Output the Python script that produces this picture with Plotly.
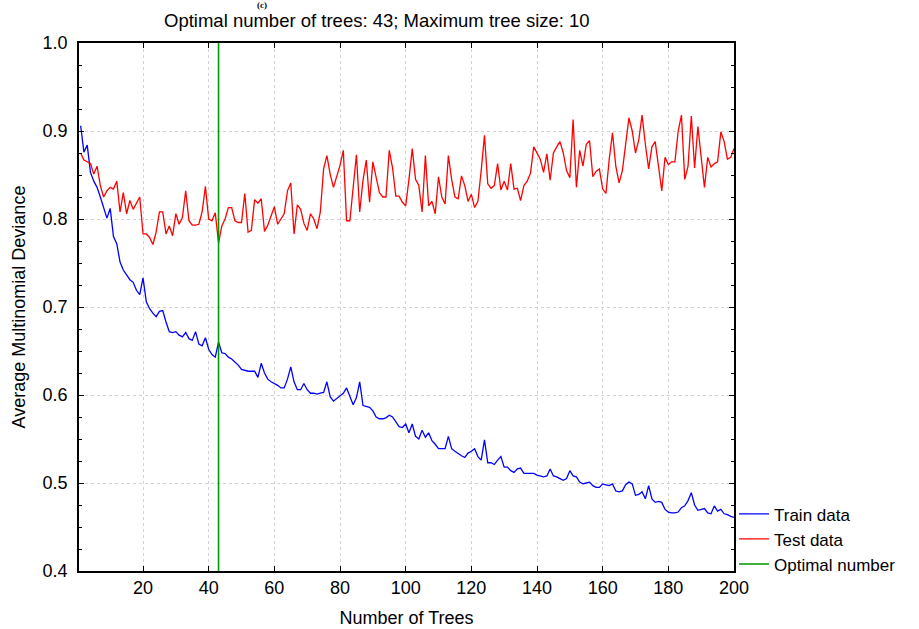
import plotly.graph_objects as go

trees = list(range(1, 201))

train_data = [
    0.906, 0.876, 0.884, 0.853, 0.843, 0.836, 0.825, 0.813, 0.801, 0.812,
    0.780, 0.772, 0.751, 0.742, 0.736, 0.731, 0.728, 0.719, 0.714, 0.733,
    0.706, 0.698, 0.693, 0.689, 0.695, 0.696, 0.683, 0.672, 0.671, 0.672,
    0.668, 0.666, 0.671, 0.664, 0.662, 0.672, 0.658, 0.656, 0.665, 0.652,
    0.646, 0.643, 0.660, 0.648, 0.647, 0.643, 0.641, 0.638, 0.634, 0.629,
    0.628, 0.627, 0.627, 0.627, 0.620, 0.636, 0.625, 0.618, 0.615, 0.613,
    0.611, 0.608, 0.608, 0.618, 0.632, 0.615, 0.606, 0.606, 0.613, 0.606,
    0.602, 0.602, 0.601, 0.602, 0.603, 0.615, 0.598, 0.593, 0.596, 0.599,
    0.602, 0.608, 0.598, 0.589, 0.597, 0.615, 0.588, 0.587, 0.586, 0.582,
    0.575, 0.573, 0.573, 0.574, 0.577, 0.575, 0.570, 0.564, 0.563, 0.567,
    0.557, 0.567, 0.553, 0.550, 0.560, 0.552, 0.557, 0.548, 0.544, 0.539,
    0.539, 0.539, 0.553, 0.539, 0.536, 0.533, 0.531, 0.529, 0.534, 0.536,
    0.539, 0.530, 0.526, 0.549, 0.523, 0.523, 0.521, 0.526, 0.530, 0.518,
    0.518, 0.514, 0.512, 0.516, 0.517, 0.511, 0.511, 0.511, 0.511, 0.509,
    0.508, 0.507, 0.508, 0.516, 0.508, 0.507, 0.505, 0.503, 0.505, 0.514,
    0.508, 0.507, 0.501, 0.499, 0.500, 0.501, 0.497, 0.495, 0.495, 0.499,
    0.498, 0.497, 0.499, 0.491, 0.490, 0.491, 0.498, 0.501, 0.499, 0.486,
    0.487, 0.490, 0.482, 0.497, 0.482, 0.478, 0.479, 0.478, 0.470, 0.467,
    0.466, 0.466, 0.467, 0.472, 0.474, 0.480, 0.489, 0.475, 0.469, 0.470,
    0.471, 0.466, 0.465, 0.474, 0.468, 0.470, 0.465, 0.464, 0.462, 0.461,
]

test_data = [
    0.875, 0.867, 0.865, 0.863, 0.851, 0.860, 0.838, 0.825, 0.832, 0.836,
    0.834, 0.843, 0.808, 0.830, 0.806, 0.821, 0.811, 0.819, 0.825, 0.783,
    0.783, 0.779, 0.771, 0.785, 0.808, 0.808, 0.783, 0.792, 0.781, 0.806,
    0.794, 0.802, 0.832, 0.798, 0.793, 0.793, 0.794, 0.808, 0.837, 0.800,
    0.798, 0.807, 0.773, 0.792, 0.800, 0.813, 0.813, 0.798, 0.796, 0.796,
    0.829, 0.785, 0.787, 0.822, 0.818, 0.823, 0.786, 0.793, 0.804, 0.814,
    0.794, 0.800, 0.806, 0.832, 0.841, 0.783, 0.816, 0.811, 0.795, 0.787,
    0.806, 0.800, 0.789, 0.808, 0.857, 0.872, 0.851, 0.836, 0.848, 0.861,
    0.878, 0.798, 0.798, 0.838, 0.873, 0.808, 0.844, 0.867, 0.819, 0.865,
    0.848, 0.830, 0.825, 0.825, 0.878, 0.858, 0.826, 0.826, 0.819, 0.815,
    0.845, 0.880, 0.845, 0.838, 0.808, 0.872, 0.815, 0.820, 0.806, 0.848,
    0.825, 0.817, 0.872, 0.845, 0.825, 0.823, 0.849, 0.838, 0.820, 0.828,
    0.813, 0.820, 0.855, 0.895, 0.840, 0.835, 0.838, 0.863, 0.833, 0.843,
    0.833, 0.863, 0.834, 0.835, 0.821, 0.838, 0.843, 0.852, 0.882, 0.875,
    0.868, 0.853, 0.874, 0.844, 0.875, 0.882, 0.888, 0.875, 0.855, 0.847,
    0.913, 0.836, 0.878, 0.860, 0.885, 0.889, 0.848, 0.854, 0.857, 0.834,
    0.829, 0.868, 0.898, 0.860, 0.841, 0.855, 0.885, 0.915, 0.900, 0.875,
    0.890, 0.918, 0.885, 0.857, 0.882, 0.888, 0.860, 0.832, 0.870, 0.862,
    0.865, 0.865, 0.900, 0.918, 0.845, 0.860, 0.917, 0.858, 0.905, 0.870,
    0.836, 0.870, 0.859, 0.863, 0.865, 0.899, 0.888, 0.868, 0.870, 0.880,
]

optimal_trees = 43
y_min, y_max = 0.4, 1.0
x_ticks = [20, 40, 60, 80, 100, 120, 140, 160, 180, 200]

FONT = "Arial, Liberation Sans, sans-serif"

fig = go.Figure()
fig.add_trace(go.Scatter(x=trees, y=train_data, mode="lines", name="Train data",
                         line=dict(color="#0000ff", width=1.3)))
fig.add_trace(go.Scatter(x=trees, y=test_data, mode="lines", name="Test data",
                         line=dict(color="#ff0000", width=1.3)))
fig.add_trace(go.Scatter(x=[optimal_trees, optimal_trees], y=[y_min, y_max], mode="lines",
                         name="Optimal number", line=dict(color="#009900", width=1.6)))

axis_common = dict(
    showline=True, linecolor="black", linewidth=1.5, mirror="ticks",
    ticks="inside", ticklen=5, tickcolor="black", tickwidth=1.2,
    showgrid=True, gridcolor="#d2d2d2", griddash="dot", gridwidth=1,
    zeroline=False, automargin=False,
    tickfont=dict(size=18, color="black", family=FONT),
)

fig.update_layout(
    width=919, height=629,
    margin=dict(l=79, r=185, t=43, b=58),
    paper_bgcolor="white", plot_bgcolor="white",
    font=dict(family=FONT, size=18, color="black"),
    showlegend=True,
    legend=dict(x=1.0, xanchor="left", y=0.06, yanchor="middle",
                font=dict(size=17, color="black", family=FONT),
                bgcolor="rgba(0,0,0,0)", tracegroupgap=0, itemwidth=30),
    xaxis=dict(range=[0.5, 200], tickvals=x_ticks,
               title=dict(text="Number of Trees", font=dict(size=18), standoff=14),
               **axis_common),
    yaxis=dict(range=[y_min, y_max], dtick=0.1, tick0=0.4, tickformat=".1f",
               ticklabelstandoff=6,
               minor=dict(dtick=0.025, ticks="inside", ticklen=3, tickcolor="black",
                          showgrid=False),
               title=dict(text="Average Multinomial Deviance", font=dict(size=18), standoff=12),
               **axis_common),
    annotations=[
        dict(text="Optimal number of trees: 43; Maximum tree size: 10",
             xref="paper", yref="paper", x=0.455, y=1.0425, xanchor="center", yanchor="middle",
             showarrow=False, font=dict(size=18.5, color="black", family=FONT)),
        dict(text="<b>(c)</b>", xref="paper", yref="paper", x=0.28, y=1.0725,
             xanchor="center", yanchor="middle", showarrow=False,
             font=dict(size=9, color="black", family="Liberation Serif, Times New Roman, serif")),
    ],
)

fig.write_html("out.html")
